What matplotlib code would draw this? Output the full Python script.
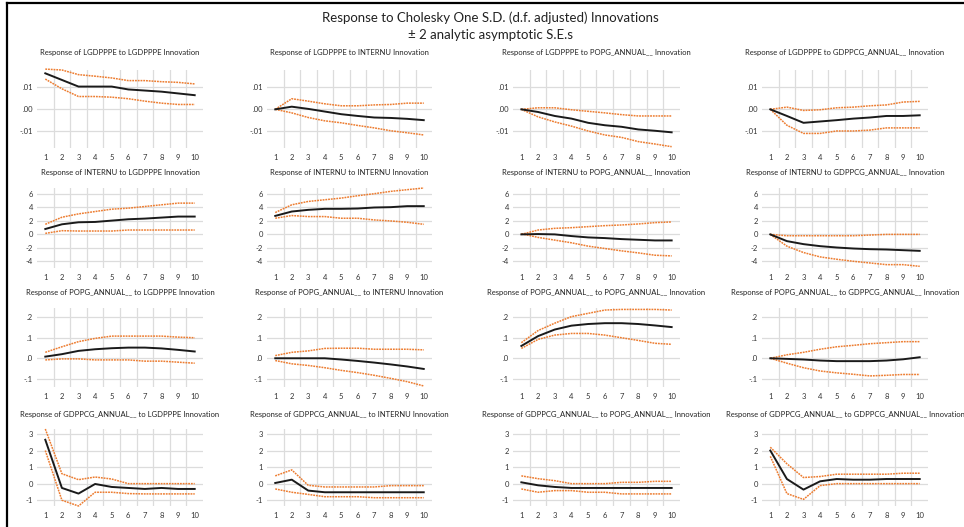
import matplotlib
matplotlib.use("Agg")
import matplotlib.pyplot as plt
from matplotlib.lines import Line2D

plt.rcParams['font.family'] = ['Lato', 'DejaVu Sans']

periods = list(range(1, 11))

variables = ["LGDPPPE", "INTERNU", "POPG_ANNUAL__", "GDPPCG_ANNUAL__"]

# responses[row][col] = (response, upper, lower)
resp_11 = [0.0163, 0.0133, 0.0103, 0.0103, 0.0103, 0.0090, 0.0085, 0.0080, 0.0072, 0.0064]
up_11 = [0.0182, 0.0178, 0.0157, 0.0150, 0.0142, 0.0130, 0.0130, 0.0125, 0.0122, 0.0115]
lo_11 = [0.0137, 0.0093, 0.0058, 0.0058, 0.0055, 0.0048, 0.0037, 0.0028, 0.0022, 0.0022]

resp_12 = [0.0, 0.0012, 0.0002, -0.0010, -0.0022, -0.0030, -0.0037, -0.0039, -0.0043, -0.0049]
up_12 = [0.0, 0.0048, 0.0037, 0.0025, 0.0016, 0.0016, 0.0020, 0.0022, 0.0028, 0.0028]
lo_12 = [0.0, -0.0016, -0.0037, -0.0052, -0.0061, -0.0073, -0.0084, -0.0097, -0.0106, -0.0116]

resp_13 = [0.0, -0.0012, -0.0030, -0.0042, -0.0061, -0.0072, -0.0079, -0.0091, -0.0097, -0.0104]
up_13 = [0.0, 0.0007, 0.0007, -0.0002, -0.0009, -0.0016, -0.0024, -0.0030, -0.0030, -0.0030]
lo_13 = [0.0, -0.0034, -0.0057, -0.0076, -0.0098, -0.0116, -0.0127, -0.0146, -0.0157, -0.0169]

resp_14 = [0.0, -0.0030, -0.0061, -0.0055, -0.0049, -0.0042, -0.0037, -0.0030, -0.0030, -0.0027]
up_14 = [0.0, 0.0010, -0.0005, -0.0002, 0.0007, 0.0010, 0.0016, 0.0020, 0.0033, 0.0036]
lo_14 = [0.0, -0.0072, -0.0109, -0.0109, -0.0098, -0.0098, -0.0094, -0.0084, -0.0084, -0.0084]

resp_21 = [0.8, 1.5, 1.8, 1.85, 2.05, 2.25, 2.35, 2.5, 2.65, 2.65]
up_21 = [1.5, 2.55, 3.05, 3.4, 3.75, 3.9, 4.15, 4.4, 4.65, 4.65]
lo_21 = [0.15, 0.55, 0.5, 0.5, 0.5, 0.65, 0.65, 0.65, 0.65, 0.65]

resp_22 = [2.75, 3.4, 3.65, 3.8, 3.8, 3.85, 4.0, 4.05, 4.2, 4.2]
up_22 = [3.25, 4.4, 4.9, 5.15, 5.4, 5.75, 6.05, 6.4, 6.65, 6.9]
lo_22 = [2.4, 2.8, 2.65, 2.65, 2.4, 2.4, 2.15, 2.0, 1.8, 1.5]

resp_23 = [0.0, 0.05, 0.0, -0.25, -0.45, -0.55, -0.7, -0.8, -0.9, -0.9]
up_23 = [0.0, 0.65, 0.9, 1.0, 1.15, 1.3, 1.4, 1.55, 1.75, 1.85]
lo_23 = [0.1, -0.45, -0.85, -1.25, -1.75, -2.1, -2.45, -2.75, -3.1, -3.2]

resp_24 = [0.0, -1.0, -1.45, -1.75, -1.95, -2.1, -2.2, -2.25, -2.35, -2.45]
up_24 = [0.0, -0.2, -0.2, -0.2, -0.2, -0.2, -0.1, 0.0, 0.0, 0.0]
lo_24 = [0.0, -1.75, -2.7, -3.35, -3.7, -4.0, -4.25, -4.5, -4.5, -4.75]

resp_31 = [0.008, 0.020, 0.036, 0.044, 0.049, 0.052, 0.052, 0.048, 0.041, 0.033]
up_31 = [0.029, 0.056, 0.081, 0.097, 0.108, 0.108, 0.108, 0.108, 0.103, 0.100]
lo_31 = [-0.008, -0.003, -0.003, -0.008, -0.008, -0.008, -0.014, -0.014, -0.019, -0.024]

resp_32 = [0.0, 0.0, 0.0, 0.0, -0.006, -0.013, -0.021, -0.030, -0.040, -0.052]
up_32 = [0.013, 0.029, 0.036, 0.048, 0.049, 0.049, 0.044, 0.044, 0.044, 0.041]
lo_32 = [-0.011, -0.027, -0.035, -0.046, -0.059, -0.070, -0.083, -0.098, -0.114, -0.135]

resp_33 = [0.060, 0.108, 0.140, 0.159, 0.167, 0.171, 0.171, 0.167, 0.160, 0.152]
up_33 = [0.076, 0.135, 0.171, 0.203, 0.219, 0.235, 0.238, 0.238, 0.238, 0.235]
lo_33 = [0.048, 0.092, 0.113, 0.121, 0.121, 0.113, 0.100, 0.087, 0.073, 0.068]

resp_34 = [0.0, -0.003, -0.006, -0.011, -0.014, -0.014, -0.014, -0.011, -0.005, 0.005]
up_34 = [0.0, 0.017, 0.029, 0.044, 0.056, 0.063, 0.071, 0.076, 0.081, 0.081]
lo_34 = [0.0, -0.024, -0.046, -0.062, -0.071, -0.078, -0.086, -0.083, -0.079, -0.079]

resp_41 = [2.65, -0.26, -0.6, -0.02, -0.2, -0.26, -0.32, -0.26, -0.32, -0.32]
up_41 = [3.3, 0.6, 0.24, 0.4, 0.28, 0.0, 0.0, 0.0, 0.0, 0.0]
lo_41 = [2.0, -1.0, -1.35, -0.52, -0.52, -0.6, -0.62, -0.62, -0.62, -0.62]

resp_42 = [0.04, 0.24, -0.42, -0.52, -0.52, -0.52, -0.52, -0.52, -0.52, -0.52]
up_42 = [0.47, 0.83, -0.1, -0.2, -0.2, -0.2, -0.2, -0.12, -0.12, -0.12]
lo_42 = [-0.32, -0.52, -0.65, -0.79, -0.79, -0.79, -0.85, -0.85, -0.85, -0.85]

resp_43 = [0.08, -0.1, -0.2, -0.26, -0.26, -0.26, -0.26, -0.26, -0.26, -0.26]
up_43 = [0.47, 0.3, 0.18, 0.0, 0.0, 0.0, 0.08, 0.08, 0.14, 0.14]
lo_43 = [-0.32, -0.52, -0.42, -0.42, -0.52, -0.52, -0.62, -0.62, -0.62, -0.62]

resp_44 = [2.0, 0.28, -0.36, 0.14, 0.28, 0.24, 0.24, 0.28, 0.28, 0.28]
up_44 = [2.2, 1.2, 0.37, 0.43, 0.57, 0.57, 0.57, 0.57, 0.63, 0.63]
lo_44 = [1.65, -0.6, -0.95, -0.12, 0.0, 0.0, 0.0, 0.0, 0.0, 0.0]

panels = [
    [(resp_11, up_11, lo_11), (resp_12, up_12, lo_12), (resp_13, up_13, lo_13), (resp_14, up_14, lo_14)],
    [(resp_21, up_21, lo_21), (resp_22, up_22, lo_22), (resp_23, up_23, lo_23), (resp_24, up_24, lo_24)],
    [(resp_31, up_31, lo_31), (resp_32, up_32, lo_32), (resp_33, up_33, lo_33), (resp_34, up_34, lo_34)],
    [(resp_41, up_41, lo_41), (resp_42, up_42, lo_42), (resp_43, up_43, lo_43), (resp_44, up_44, lo_44)],
]

row_ticks = [
    [-0.01, 0.0, 0.01],
    [-4, -2, 0, 2, 4, 6],
    [-0.1, 0.0, 0.1, 0.2],
    [-1, 0, 1, 2, 3],
]
row_ticklabels = [
    ["-.01", ".00", ".01"],
    ["-4", "-2", "0", "2", "4", "6"],
    ["-.1", ".0", ".1", ".2"],
    ["-1", "0", "1", "2", "3"],
]
row_ylims = [(-0.0175, 0.0178), (-5.0, 6.9), (-0.14, 0.245), (-1.35, 3.3)]

W, H = 964, 527
fig = plt.figure(figsize=(W / 100, H / 100), dpi=100)

col_px = [(37, 203), (267, 432), (513, 680), (762, 928)]
row_px = [(70, 148), (188, 268), (308, 387), (429, 506)]
title_px = [52, 173, 293, 415]

orange = "#ED7D31"
grid_c = "#dcdcdc"

for r in range(4):
    for c in range(4):
        x0, x1 = col_px[c]
        yt, yb = row_px[r]
        ax = fig.add_axes([x0 / W, 1 - yb / H, (x1 - x0) / W, (yb - yt) / H])
        resp, up, lo = panels[r][c]
        ax.plot(periods, up, color=orange, lw=1.1, ls=(0, (1.2, 0.6)), clip_on=False, zorder=3)
        ax.plot(periods, lo, color=orange, lw=1.1, ls=(0, (1.2, 0.6)), clip_on=False, zorder=3)
        ax.plot(periods, resp, color="#1a1a1a", lw=1.4, clip_on=False, zorder=4)
        ax.set_xlim(0.5, 10.5)
        ax.set_ylim(*row_ylims[r])
        ax.set_xticks(periods)
        ax.set_xticklabels([str(p) for p in periods])
        ax.set_yticks(row_ticks[r])
        ax.set_yticklabels(row_ticklabels[r])
        ax.grid(False)
        for xm in [p + 0.5 for p in periods[:-1]]:
            ax.axvline(xm, color=grid_c, lw=0.9, zorder=1)
        for yv in row_ticks[r]:
            ax.axhline(yv, color=grid_c, lw=0.9, zorder=1)
        for s in ax.spines.values():
            s.set_visible(False)
        ax.tick_params(axis='both', which='both', length=0, labelsize=5.5, colors="#333333")
        ax.tick_params(axis='x', pad=4)
        ax.tick_params(axis='y', pad=3)
        ax.patch.set_alpha(0)
        fig.text((x0 + x1) / 2 / W, 1 - title_px[r] / H,
                 f"Response of {variables[r]} to {variables[c]} Innovation",
                 ha='center', va='center', fontsize=5.5, color="#222222")

fig.text(490 / W, 1 - 18 / H, "Response to Cholesky One S.D. (d.f. adjusted) Innovations",
         ha='center', va='center', fontsize=9.5, color="#222222")
fig.text(490 / W, 1 - 35 / H, "\u00b1 2 analytic asymptotic S.E.s",
         ha='center', va='center', fontsize=9.5, color="#222222")

# frame lines (left and top)
fig.add_artist(Line2D([7 / W, 7 / W], [0, 1 - 3 / H], color="black", lw=1.6, transform=fig.transFigure))
fig.add_artist(Line2D([7 / W, 1], [1 - 3 / H, 1 - 3 / H], color="black", lw=1.6, transform=fig.transFigure))

fig.savefig("out.png", dpi=100, facecolor="white")
